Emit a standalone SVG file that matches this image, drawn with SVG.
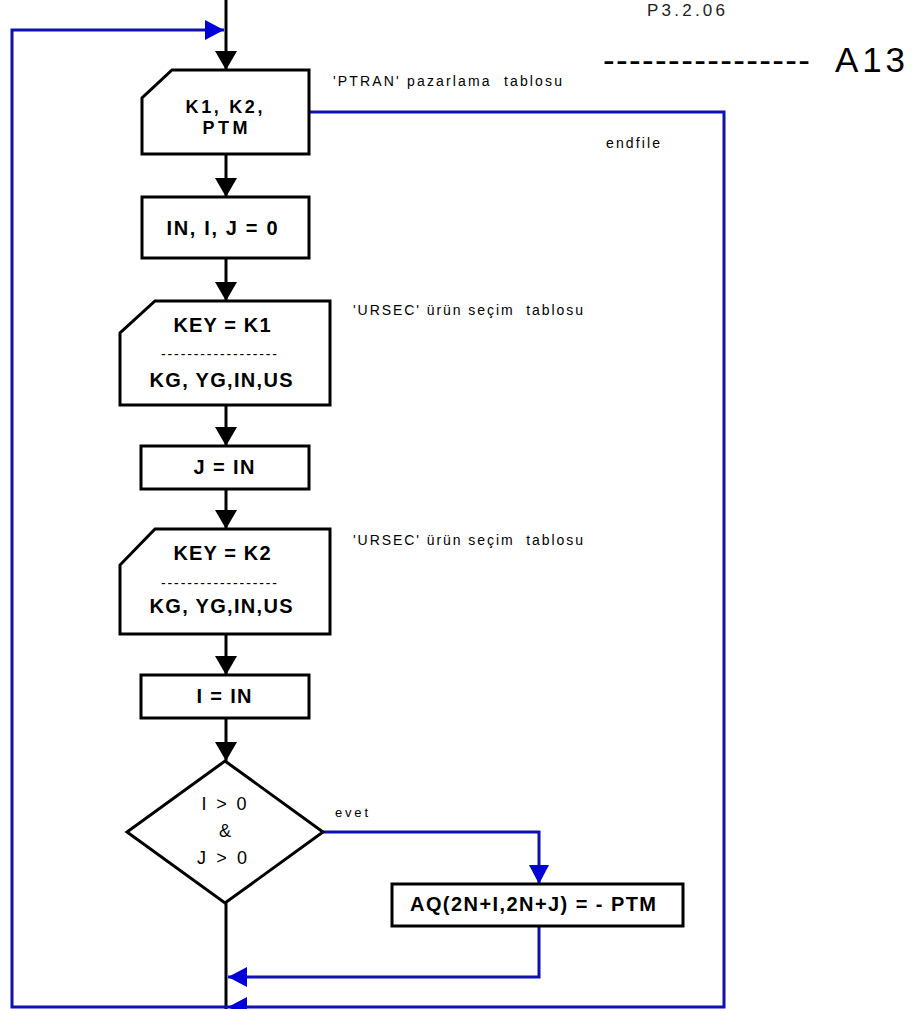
<svg xmlns="http://www.w3.org/2000/svg" width="913" height="1009" viewBox="0 0 913 1009">
<style>
.shape{fill:#fff;stroke:#000;stroke-width:3}
.bt{font-family:"Liberation Sans",Arial,sans-serif;font-weight:bold;font-size:20px;fill:#000;text-anchor:middle}
.dt{font-family:"Liberation Sans",Arial,sans-serif;font-size:18px;fill:#000;text-anchor:middle}
.dash{font-family:"Liberation Sans",Arial,sans-serif;font-size:14px;fill:#000;text-anchor:middle}
.lbl{font-family:"Liberation Sans",Arial,sans-serif;font-size:14px;fill:#000;white-space:pre}
.big{font-family:"Liberation Sans",Arial,sans-serif;font-size:35px;fill:#000}
.blk{fill:none;stroke:#000;stroke-width:3}
.blu{fill:none;stroke:#1010b0;stroke-width:3}
</style>
<defs>
<marker id="ab" viewBox="0 0 19 22" markerWidth="19" markerHeight="22" refX="19" refY="11" orient="auto" markerUnits="userSpaceOnUse"><path d="M0,0 L19,11 L0,22 Z" fill="#000"/></marker>
<marker id="au" viewBox="0 0 19 20" markerWidth="19" markerHeight="20" refX="19" refY="10" orient="auto" markerUnits="userSpaceOnUse"><path d="M0,0 L19,10 L0,20 Z" fill="#0000d8"/></marker>
</defs>
<rect width="913" height="1009" fill="#fff"/>
<g id="connectors">
<path class="blk" d="M226,0 V70" marker-end="url(#ab)"/>
<path class="blk" d="M226,154 V197" marker-end="url(#ab)"/>
<path class="blk" d="M226,258 V301" marker-end="url(#ab)"/>
<path class="blk" d="M226,405 V446" marker-end="url(#ab)"/>
<path class="blk" d="M226,489 V529" marker-end="url(#ab)"/>
<path class="blk" d="M226,634 V675" marker-end="url(#ab)"/>
<path class="blk" d="M226,718 V761" marker-end="url(#ab)"/>
<path class="blk" d="M226,903 V1009"/>
<path class="blu" d="M309,112 H724 V1007 H228" marker-end="url(#au)"/>
<path class="blu" d="M228,1007 H12 V30 H224" marker-end="url(#au)"/>
<path class="blu" d="M323,832 H539 V884" marker-end="url(#au)"/>
<path class="blu" d="M539,926 V977 H228" marker-end="url(#au)"/>
</g>
<g id="n-read-ptran">
<polygon class="shape" points="172,70 309,70 309,154 142,154 142,98"/>
<text class="bt" x="224" y="113" style="font-size:18px" textLength="77">K1, K2,</text>
<text class="bt" x="225" y="134" style="font-size:18px" textLength="45">PTM</text>
</g>
<g id="n-init">
<rect class="shape" x="142" y="197" width="167" height="61"/>
<text class="bt" x="222" y="235" textLength="111">IN, I, J = 0</text>
</g>
<g id="n-read-k1">
<polygon class="shape" points="155,301 330,301 330,405 120,405 120,333"/>
<text class="bt" x="222" y="332" textLength="97">KEY = K1</text>
<text class="dash" x="219" y="359" textLength="116">------------------</text>
<text class="bt" x="221" y="387" textLength="143">KG, YG,IN,US</text>
</g>
<g id="n-j">
<rect class="shape" x="141" y="446" width="168" height="43"/>
<text class="bt" x="224" y="474" textLength="61">J = IN</text>
</g>
<g id="n-read-k2">
<polygon class="shape" points="155,529 330,529 330,634 120,634 120,565"/>
<text class="bt" x="222" y="560" textLength="97">KEY = K2</text>
<text class="dash" x="219" y="588" textLength="116">------------------</text>
<text class="bt" x="221" y="613" textLength="143">KG, YG,IN,US</text>
</g>
<g id="n-i">
<rect class="shape" x="141" y="675" width="168" height="43"/>
<text class="bt" x="224" y="703" textLength="55">I = IN</text>
</g>
<g id="n-decision">
<polygon class="shape" points="225,761 323,832 225,903 127,832"/>
<text class="dt" x="224" y="810" textLength="45">I &gt; 0</text>
<text class="dt" x="225" y="837">&amp;</text>
<text class="dt" x="222" y="864" textLength="50">J &gt; 0</text>
</g>
<g id="n-aq">
<rect class="shape" x="392" y="884" width="291" height="42"/>
<text class="bt" x="533" y="911" textLength="246">AQ(2N+I,2N+J) = - PTM</text>
</g>
<g id="labels">
<text class="lbl" x="333" y="86" textLength="229">'PTRAN' pazarlama  tablosu</text>
<text class="lbl" x="353" y="315" textLength="230">'URSEC' ürün seçim  tablosu</text>
<text class="lbl" x="353" y="545" textLength="230">'URSEC' ürün seçim  tablosu</text>
<text class="lbl" x="606" y="148" textLength="54">endfile</text>
<text class="lbl" x="335" y="817" style="font-size:13px" textLength="33">evet</text>
<text class="lbl" x="647" y="16" style="font-size:17px;fill:#222" textLength="78">P3.2.06</text>
<text class="big" x="603" y="72" textLength="207">----------------</text>
<text class="big" x="835" y="72" textLength="70">A13</text>
</g>
</svg>
